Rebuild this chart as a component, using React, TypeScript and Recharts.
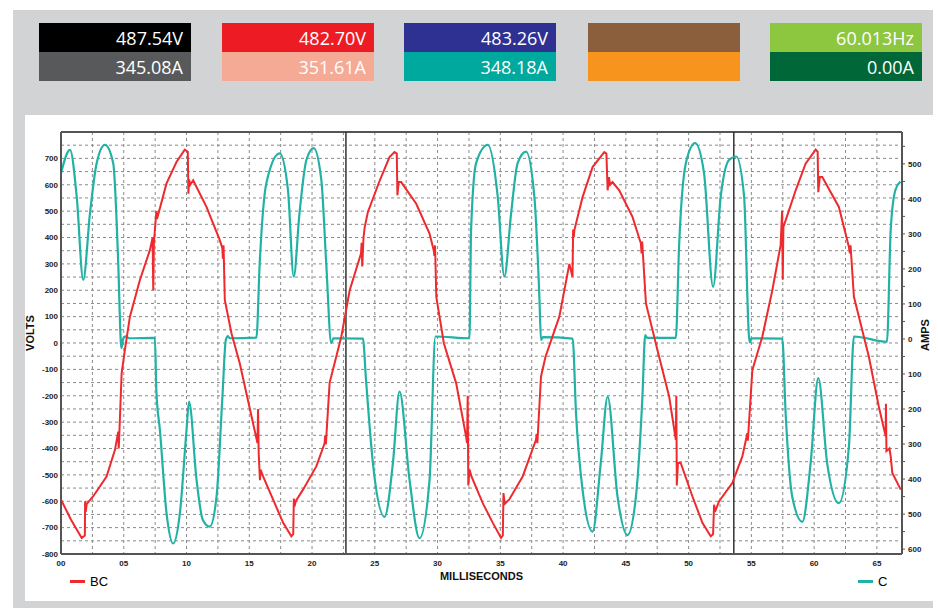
import { LineChart, Line, XAxis, YAxis, CartesianGrid, ReferenceLine } from "recharts";

// meter readouts (top strip)
const meterTop = ["487.54V", "482.70V", "483.26V", "", "60.013Hz"];
const meterBottom = ["345.08A", "351.61A", "348.18A", "", "0.00A"];
const meterTopColors = ["#000000", "#ed1c24", "#2e3192", "#8b5e3c", "#8dc63f"];
const meterBottomColors = ["#58595b", "#f5aa96", "#00a99d", "#f7941d", "#006838"];
const meterLeft = [39, 222, 404, 588, 770];

// BC line-to-line voltage (ms, volts)
const bcTime = [
  0, 0.8, 1.65, 1.9, 1.92, 1.97, 2.05, 2.57, 3.63, 4.3, 4.56, 4.6, 4.65, 4.83, 5.09, 5.49, 6.28, 7.08,
  7.3, 7.35, 7.4, 7.55, 7.6, 7.65, 8.4, 9.2, 9.86, 10.1, 10.15, 10.2, 10.3, 10.53, 11.59, 12.65, 12.85,
  12.9, 12.95, 13.05, 13.58, 14.24, 15.3, 15.65, 15.7, 15.75, 15.85, 15.9, 16.1, 16.9, 17.7, 18.35,
  18.5, 18.55, 18.6, 18.7, 19.28, 20.34, 21.0, 21.05, 21.1, 21.4, 21.66, 22.33, 23.0, 23.9, 23.95,
  24.0, 24.1, 24.2, 24.45, 25.4, 26.17, 26.57, 26.75, 26.8, 26.9, 27.1, 28.3, 29.36, 29.7, 29.75,
  29.8, 29.9, 30.5, 31.48, 32.27, 32.35, 32.4, 32.45, 32.55, 32.7, 33.6, 34.4, 35.06, 35.2, 35.25,
  35.35, 35.7, 36.78, 37.84, 37.9, 37.95, 38.24, 38.6, 39.7, 40.5, 40.75, 40.8, 40.85, 40.9, 41.55,
  42.35, 43.28, 43.45, 43.55, 43.65, 43.75, 43.94, 44.47, 45.53, 46.2, 46.25, 46.3, 46.6, 47.65,
  48.45, 48.98, 49.02, 49.06, 49.15, 49.37, 50.3, 51.1, 51.76, 51.95, 52.03, 52.1, 52.43, 53.48,
  54.28, 54.68, 54.72, 55.08, 55.87, 56.67, 57.33, 57.45, 57.5, 57.55, 57.73, 58.53, 59.32, 60.12,
  60.28, 60.33, 60.45, 60.65, 61.97, 62.77, 62.85, 62.9, 63.17, 64.36, 65.15, 65.7, 65.72, 65.76,
  66.0, 66.1, 66.23, 66.9,
];
const bcVolts = [
  -594, -670, -739, -730, -600, -640, -610, -581, -506, -405, -336, -400, -340, -115, -26, 100, 238, 352,
  400, 200, 380, 470, 500, 470, 604, 686, 733, 725, 566, 620, 600, 617, 516, 390, 360,
  320, 370, 163, 37, -77, -304, -379, -250, -420, -520, -480, -506, -594, -682, -733,
  -725, -590, -620, -600, -556, -468, -380, -350, -385, -151, -102, 24, 200, 339, 380,
  290, 400, 440, 497, 617, 705, 724, 718, 560, 610, 610, 528, 415, 350, 330,
  370, 175, -1, -152, -354, -380, -200, -540, -480, -506, -607, -682, -739, -730, -569,
  -610, -594, -506, -367, -345, -380, -127, -52, 100, 300, 250, 430, 400, 428, 553,
  667, 724, 718, 579, 629, 600, 610, 579, 478, 377, 340, 385, 150, -52,
  -203, -367, -200, -540, -455, -455, -581, -682, -733, -725, -613, -640, -600, -531,
  -430, -342, -370, -102, 24, 200, 371, 500, 240, 440, 465, 579, 680, 733,
  725, 572, 629, 629, 516, 364, 340, 370, 175, -52, -241, -354, -230, -410,
  -400, -430, -493, -556,
];

// phase C current (ms, amps)
const cTime = [
  0, 0.72, 1.25, 1.77, 2.31, 2.84, 3.5, 4.16, 4.56, 4.77, 4.82, 4.96, 5.2, 5.4, 7.48, 7.6, 7.88, 8.41,
  8.93, 9.47, 10.0, 10.2, 10.8, 11.3, 11.85, 12.39, 12.86, 13.13, 13.3, 13.45, 15.57, 15.83, 16.36,
  17.42, 18.08, 18.54, 19.0, 19.55, 20.13, 20.74, 21.13, 21.53, 21.7, 24.05, 24.3, 24.85, 25.78,
  26.44, 26.97, 27.77, 28.56, 29.36, 29.83, 32.54, 32.67, 33.07, 34.0, 34.79, 35.32, 35.86, 36.38,
  37.05, 37.71, 38.11, 38.24, 38.4, 40.76, 41.03, 41.55, 42.35, 43.0, 43.55, 44.34, 45.13, 45.8,
  46.32, 46.54, 46.7, 48.98, 49.24, 49.78, 50.52, 51.23, 51.95, 52.56, 53.22, 53.8, 54.42, 54.81,
  54.9, 55.0, 57.46, 57.73, 58.26, 59.06, 59.72, 60.33, 61.04, 61.97, 62.77, 63.17, 65.8, 66.1,
  66.48, 66.88,
];
const cAmps = [
  473, 540, 407, 169, 359, 502, 554, 502, 216, -12, -26, 2, 8, 2, 3, -150, -260, -498,
  -584, -498, -260, -179, -403, -517, -536, -451, -165, -3, 8, 2, 4, 216, 445,
  530, 426, 178, 359, 511, 545, 454, 216, -12, 2, 1, -117, -355, -508,
  -355, -150, -403, -569, -403, 7, 2, 311, 502, 554, 407, 178, 359, 502,
  535, 407, 121, -3, 5, 1, -212, -431, -550, -355, -165, -451, -560, -451,
  -165, 11, 3, 3, 264, 502, 559, 473, 149, 407, 511, 521, 407, 7,
  -10, 2, 1, -212, -451, -522, -355, -112, -355, -469, -308, 7, -8, 311,
  426, 449,
];

const cursorTimes = [22.7, 53.6];

const voltTicks = [-800, -700, -600, -500, -400, -300, -200, -100, 0, 100, 200, 300, 400, 500, 600, 700];
const voltGrid = [-750, -700, -650, -600, -550, -500, -450, -400, -350, -300, -250, -200, -150, -100, -50, 0, 50, 100, 150, 200, 250, 300, 350, 400, 450, 500, 550, 600, 650, 700, 750];
const ampTicks = [-600, -550, -500, -450, -400, -350, -300, -250, -200, -150, -100, -50, 0, 50, 100, 150, 200, 250, 300, 350, 400, 450, 500, 550];
const msTicks = [0, 2.5, 5, 7.5, 10, 12.5, 15, 17.5, 20, 22.5, 25, 27.5, 30, 32.5, 35, 37.5, 40, 42.5, 45, 47.5, 50, 52.5, 55, 57.5, 60, 62.5, 65];

const bcData = bcTime.map((t, i) => ({ t, v: bcVolts[i] }));
const cData = cTime.map((t, i) => ({ t, a: cAmps[i] }));

const RED = "#ee2a2e";
const TEAL = "#22b2a5";
const FONT = "'Open Sans', 'Noto Sans', sans-serif";
const TICK_FONT = "'Liberation Sans', Arial, sans-serif";
const NARROW = "'Liberation Sans Narrow', 'Liberation Sans', sans-serif";

const tickStyle = { fontSize: 8, fontWeight: 700, fill: "#222", fontFamily: TICK_FONT };

const App = () => {
  return (
    <div style={{ position: "absolute", left: 0, top: 0, width: 938, height: 610, background: "#fff", overflow: "hidden" }}>
      <div style={{ position: "absolute", left: 13, top: 10, width: 920, height: 598, background: "#d1d3d4" }} />
      <div style={{ position: "absolute", left: 25, top: 115, width: 913, height: 486, background: "#fff" }} />

      {meterLeft.map((x, i) => (
        <div key={i} style={{ position: "absolute", left: x, top: 23, width: 152 }}>
          {[meterTop[i], meterBottom[i]].map((txt, j) => (
            <div
              key={j}
              style={{
                height: 29,
                lineHeight: "31px",
                background: j === 0 ? meterTopColors[i] : meterBottomColors[i],
                color: "#fff",
                textAlign: "right",
                paddingRight: 8,
                fontFamily: FONT,
                fontSize: 18,
                boxSizing: "border-box",
              }}
            >
              {txt}
            </div>
          ))}
        </div>
      ))}

      <div style={{ position: "absolute", left: 0, top: 0 }}>
        <LineChart width={938} height={610} margin={{ top: 132, right: 6, bottom: 36, left: 21 }}>
          <CartesianGrid
            yAxisId="v"
            horizontalValues={voltGrid}
            verticalValues={msTicks}
            stroke="#8a8a8a"
            strokeDasharray="3 3"
          />
          <XAxis
            dataKey="t"
            type="number"
            domain={[0, 67]}
            ticks={msTicks}
            allowDataOverflow
            interval={0}
            tickLine={false}
            tickSize={4}
            tickMargin={2}
            axisLine={{ stroke: "#555", strokeWidth: 2 }}
            tick={tickStyle}
            tickFormatter={(v: number) => (v % 5 === 0 ? String(v).padStart(2, "0") : "")}
            height={20}
            label={({ viewBox }: any) => (
              <text
                x={viewBox.x + viewBox.width / 2}
                y={viewBox.y + 26}
                textAnchor="middle"
                style={{ fontSize: 11, fontWeight: 700, fontFamily: NARROW, fill: "#111" }}
              >
                MILLISECONDS
              </text>
            )}
          />
          <YAxis
            yAxisId="v"
            orientation="left"
            domain={[-800, 800]}
            ticks={voltTicks}
            interval={0}
            allowDataOverflow
            width={40}
            tickLine={false}
            tickSize={1}
            tickMargin={2}
            axisLine={{ stroke: "#555", strokeWidth: 2 }}
            tick={tickStyle}
            label={({ viewBox }: any) => {
              const x = viewBox.x + 13;
              const y = viewBox.y + viewBox.height / 2 - 10;
              return (
                <text x={x} y={y} transform={`rotate(-90, ${x}, ${y})`} textAnchor="middle"
                  style={{ fontSize: 11, fontWeight: 700, fontFamily: NARROW, fill: "#111" }}>
                  VOLTS
                </text>
              );
            }}
          />
          <YAxis
            yAxisId="a"
            orientation="right"
            domain={[-614, 591]}
            ticks={ampTicks}
            interval={0}
            allowDataOverflow
            width={30}
            tickSize={3}
            tickMargin={3}
            tickLine={{ stroke: "#555" }}
            axisLine={{ stroke: "#555", strokeWidth: 2 }}
            tick={tickStyle}
            tickFormatter={(v: number) => (v % 100 === 0 ? String(Math.abs(v)) : "")}
            label={({ viewBox }: any) => {
              const x = viewBox.x + 27;
              const y = viewBox.y + viewBox.height / 2 - 8;
              return (
                <text x={x} y={y} transform={`rotate(-90, ${x}, ${y})`} textAnchor="middle"
                  style={{ fontSize: 11, fontWeight: 700, fontFamily: NARROW, fill: "#111" }}>
                  AMPS
                </text>
              );
            }}
          />
          <ReferenceLine yAxisId="v" y={800} stroke="#555" strokeWidth={2} />
          {cursorTimes.map((t) => (
            <ReferenceLine key={t} yAxisId="v" x={t} stroke="#333" strokeWidth={1.5} />
          ))}
          <Line
            yAxisId="a"
            data={cData}
            dataKey="a"
            type="monotone"
            stroke={TEAL}
            strokeWidth={2.2}
            dot={false}
            isAnimationActive={false}
          />
          <Line
            yAxisId="v"
            data={bcData}
            dataKey="v"
            type="linear"
            stroke={RED}
            strokeWidth={2}
            dot={false}
            isAnimationActive={false}
          />
        </LineChart>
      </div>

      <div style={{ position: "absolute", left: 70, top: 574, display: "flex", alignItems: "center", fontFamily: NARROW, fontSize: 13 }}>
        <span style={{ display: "inline-block", width: 15, height: 3, background: RED, marginRight: 5 }} />
        <span>BC</span>
      </div>
      <div style={{ position: "absolute", left: 858, top: 574, display: "flex", alignItems: "center", fontFamily: NARROW, fontSize: 13 }}>
        <span style={{ display: "inline-block", width: 15, height: 3, background: TEAL, marginRight: 5 }} />
        <span>C</span>
      </div>
    </div>
  );
};

export default App;
